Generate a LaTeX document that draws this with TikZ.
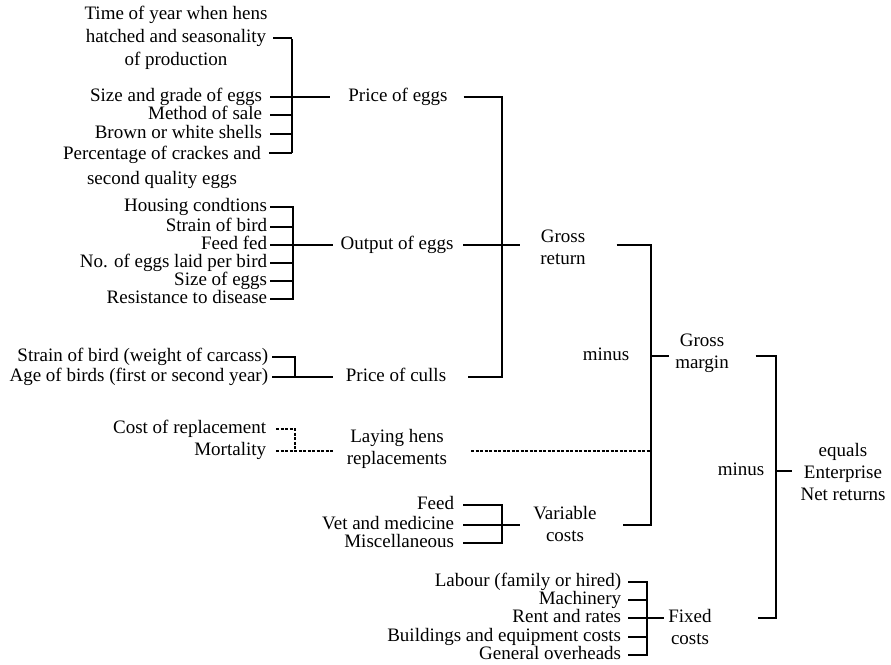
\documentclass[tikz,border=0pt]{standalone}
\usepackage{fontspec}
\setmainfont{Liberation Serif}

\begin{document}
\begin{tikzpicture}[x=1pt, y=-1pt, line width=1.8pt,
        font=\fontsize{19}{22}\selectfont,
        word/.style={inner sep=0pt, text height=13pt, text depth=4pt},
        item/.style={word, anchor=east},
        head/.style={align=center, inner sep=0pt},
        hop/.style={dash pattern=on 3pt off 1.5pt, line width=1.3pt}]

        \useasboundingbox (0,0) rectangle (891,664);

        % price of eggs
        \node[head, font=\fontsize{19}{23}\selectfont] (tm) at (176,38)
            {Time of year when hens\\hatched and seasonality\\of production};
        \node[item] (sg) at (263,97) {Size and grade of eggs};
        \node[item] (ms) at (263,115) {Method of sale};
        \node[item] (bw) at (263,134) {Brown or white shells};
        \node[head, font=\fontsize{19}{25}\selectfont, anchor=north] (pq) at (162,145)
            {Percentage of crackes and\\second quality eggs};
        \node[word] (pe) at (398,97) {Price of eggs};

        \coordinate (pe1) at (292,39);
        \coordinate (pej) at (292,97);
        \coordinate (pe2) at (292,153);
        \draw (pe1) -- (pe2);
        \draw[shorten <=5pt] (tm.east) -- (tm.east -| pe1);
        \foreach \n in {sg,ms,bw}
            \draw[shorten <=7pt] (\n.east) -- (\n.east -| pej);
        \draw[shorten <=7pt] ([yshift=-8pt]pq.north east) -- (pe2);
        \draw[shorten >=18pt] (pej) -- (pe);

        % output of eggs
        \node[item] (hc) at (268,207) {Housing condtions};
        \node[item] (sb) at (268,227) {Strain of bird};
        \node[item] (ff) at (268,245) {Feed fed};
        \node[item] (ne) at (268,263) {No. of eggs laid per bird};
        \node[item] (se) at (268,281) {Size of eggs};
        \node[item] (rd) at (268,299) {Resistance to disease};
        \node[word] (oe) at (397,245) {Output of eggs};

        \coordinate (oej) at (293,245);
        \draw[shorten <=2pt, shorten >=2pt] (hc.east) -- (hc.east -| oej)
            -- (rd.east -| oej) -- (rd.east);
        \foreach \n in {sb,ff,ne,se}
            \draw[shorten <=2pt] (\n.east) -- (\n.east -| oej);
        \draw[shorten >=7pt] (oej) -- (oe);

        % price of culls
        \node[item] (sw) at (269,357) {Strain of bird (weight of carcass)};
        \node[item] (ab) at (269,377) {Age of birds (first or second year)};
        \node[word] (pc) at (396,377) {Price of culls};

        \coordinate (pcj) at (295,377);
        \draw[shorten <=3pt, shorten >=3pt] (sw.east) -- (sw.east -| pcj)
            -- (pcj) -- (ab.east);
        \draw[shorten >=12pt] (pcj) -- (pc);

        % gross return
        \node[head] (gr) at (563,247) {Gross\\return};
        \coordinate (grj) at (502,245);
        \draw[shorten <=15pt, shorten >=21pt] (pe) -- (pe -| grj)
            -- (grj |- pc) -- (pc);
        \draw[shorten <=9pt, shorten >=19pt] (oe) -- (gr.west |- oe);

        % laying hens
        \node[item] (cr) at (267,429) {Cost of replacement};
        \node[item] (mo) at (267,451) {Mortality};
        \node[head] (lh) at (397,449) {Laying hens\\replacements};

        \coordinate (lhj) at (295,451);
        \draw[hop, shorten <=9pt] (cr.east) -- (cr.east -| lhj) -- (lhj);
        \draw[hop, shorten <=9pt, shorten >=12pt] (mo.east) -- (lhj)
            -- (lhj -| lh.west);

        % variable costs
        \node[item] (fd) at (455,505) {Feed};
        \node[item] (vm) at (455,525) {Vet and medicine};
        \node[item] (mc) at (455,543) {Miscellaneous};
        \node[head] (vc) at (565,524) {Variable\\costs};

        \coordinate (vcj) at (502,525);
        \draw[shorten <=8pt, shorten >=8pt] (fd.east) -- (fd.east -| vcj)
            -- (mc.east -| vcj) -- (mc.east);
        \draw[shorten <=8pt] (vm.east) -- (vcj);
        \draw[shorten >=12pt] (vcj) -- (vcj -| vc.west);

        % gross margin
        \node[word] (mn1) at (606,356) {minus};
        \node[head] (gm) at (702,353) {Gross\\margin};

        \coordinate (gmj) at (651,356);
        \draw[shorten <=30pt, shorten >=25pt] (gr.east |- grj) -- (gmj |- grj)
            -- (gmj |- vcj) -- (vcj -| vc.east);
        \draw[shorten >=5pt] (gmj) -- (gmj -| gm.west);
        \draw[hop, shorten <=23pt] (lh.east |- lhj) -- (gmj |- lhj);

        % fixed costs
        \node[item] (lf) at (622,582) {Labour (family or hired)};
        \node[item] (mh) at (622,600) {Machinery};
        \node[item] (rr) at (622,618) {Rent and rates};
        \node[item] (be) at (622,637) {Buildings and equipment costs};
        \node[item] (go) at (622,655) {General overheads};
        \node[head] (fc) at (690,627) {Fixed\\costs};

        \coordinate (fcj) at (647,618);
        \draw[shorten <=6pt, shorten >=6pt] (lf.east) -- (lf.east -| fcj)
            -- (go.east -| fcj) -- (go.east);
        \foreach \n in {mh,rr,be}
            \draw[shorten <=6pt] (\n.east) -- (\n.east -| fcj);
        \draw[shorten >=3pt] (fcj) -- (fcj -| fc.west);

        % net returns
        \node[word] (mn2) at (741,471) {minus};
        \node[head] (nr) at (843,472) {equals\\Enterprise\\Net returns};

        \coordinate (nrj) at (776,471);
        \draw[shorten <=26pt, shorten >=45pt] (gm.east |- gmj) -- (nrj |- gmj)
            -- (nrj |- fcj) -- (fcj -| fc.east);
        \draw[shorten >=8pt] (nrj) -- (nrj -| nr.west);

    \end{tikzpicture}
\end{document}
